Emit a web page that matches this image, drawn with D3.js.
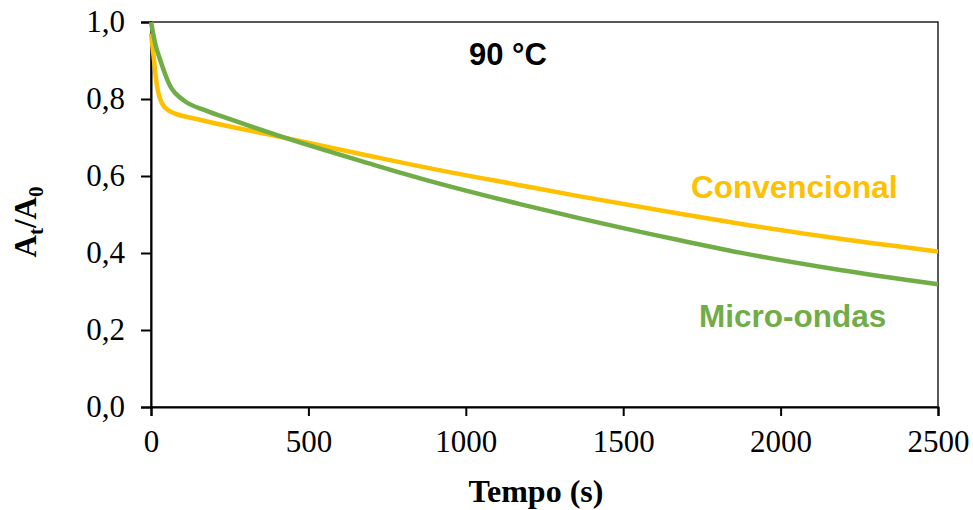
<!DOCTYPE html>
<html>
<head>
<meta charset="utf-8">
<script src="https://cdn.jsdelivr.net/npm/d3@7"></script>
<style>
  body { margin: 0; background: #fff; }
  svg { display: block; }
</style>
</head>
<body>
<div id="container"></div>
<script>
// time points (s) and A_t/A_0
const tempoConv = [0, 7, 18, 34, 60, 145, 314, 420, 696, 855, 1172, 1363, 1680, 1871, 2189, 2500];
const convencional = [0.97, 0.92, 0.84, 0.79, 0.768, 0.748, 0.718, 0.700, 0.652, 0.625, 0.576, 0.547, 0.502, 0.476, 0.437, 0.404];

const tempoMicro = [0, 13, 29, 60, 103, 175, 251, 420, 696, 855, 1172, 1363, 1680, 1871, 2189, 2500];
const microOndas = [1.0, 0.945, 0.902, 0.835, 0.797, 0.770, 0.748, 0.701, 0.632, 0.594, 0.527, 0.490, 0.433, 0.401, 0.356, 0.319];

const xTicks = [0, 500, 1000, 1500, 2000, 2500];
const yTicks = [0, 0.2, 0.4, 0.6, 0.8, 1.0];

const width = 973;
const height = 510;
const margin = { top: 22, right: 35, bottom: 103, left: 151 };

const ptLocale = d3.formatLocale({ decimal: ",", thousands: ".", grouping: [3], currency: ["", ""] });
const fmtY = ptLocale.format(".1f");

const svg = d3.select("#container").append("svg")
    .attr("width", width)
    .attr("height", height);

const x = d3.scaleLinear().domain([0, 2500]).range([margin.left, width - margin.right]);
const y = d3.scaleLinear().domain([0, 1]).range([height - margin.bottom, margin.top]);

// frame
svg.append("rect")
    .attr("x", x(0))
    .attr("y", y(1))
    .attr("width", x(2500) - x(0))
    .attr("height", y(0) - y(1))
    .attr("fill", "none")
    .attr("stroke", "#222")
    .attr("stroke-width", 1.5);

// x axis
const xAxis = svg.append("g")
    .attr("transform", `translate(0,${y(0)})`)
    .call(d3.axisBottom(x).tickValues(xTicks).tickSize(9).tickPadding(14).tickFormat(d3.format("d")));
xAxis.select(".domain").attr("stroke", "#000").attr("stroke-width", 2);
xAxis.selectAll(".tick line").attr("stroke", "#000").attr("stroke-width", 2);
xAxis.selectAll("text")
    .attr("font-family", "'Liberation Serif', 'Times New Roman', serif")
    .attr("font-size", 31)
    .attr("fill", "#000");

// y axis
const yAxis = svg.append("g")
    .attr("transform", `translate(${x(0)},0)`)
    .call(d3.axisLeft(y).tickValues(yTicks).tickSize(10).tickPadding(16).tickFormat(fmtY));
yAxis.select(".domain").attr("stroke", "#000").attr("stroke-width", 2);
yAxis.selectAll(".tick line").attr("stroke", "#000").attr("stroke-width", 2);
yAxis.selectAll("text")
    .attr("font-family", "'Liberation Serif', 'Times New Roman', serif")
    .attr("font-size", 31)
    .attr("fill", "#000");

// lines
const line = d3.line()
    .x(d => x(d[0]))
    .y(d => y(d[1]))
    .curve(d3.curveMonotoneX);

svg.append("path")
    .datum(d3.zip(tempoConv, convencional))
    .attr("fill", "none")
    .attr("stroke", "#FFC000")
    .attr("stroke-width", 4.5)
    .attr("d", line);

svg.append("path")
    .datum(d3.zip(tempoMicro, microOndas))
    .attr("fill", "none")
    .attr("stroke", "#70AD47")
    .attr("stroke-width", 4.5)
    .attr("d", line);

// labels inside plot
svg.append("text")
    .attr("x", 691)
    .attr("y", 198)
    .attr("font-family", "'Liberation Sans', Arial, sans-serif")
    .attr("font-weight", "bold")
    .attr("font-size", 31.5)
    .attr("fill", "#FFC000")
    .text("Convencional");

svg.append("text")
    .attr("x", 699)
    .attr("y", 327)
    .attr("font-family", "'Liberation Sans', Arial, sans-serif")
    .attr("font-weight", "bold")
    .attr("font-size", 31.5)
    .attr("fill", "#70AD47")
    .text("Micro-ondas");

svg.append("text")
    .attr("x", 469)
    .attr("y", 65)
    .attr("font-family", "'Liberation Sans', Arial, sans-serif")
    .attr("font-weight", "bold")
    .attr("font-size", 31)
    .attr("fill", "#000")
    .text("90 °C");

// axis titles
svg.append("text")
    .attr("x", 536)
    .attr("y", 502)
    .attr("text-anchor", "middle")
    .attr("font-family", "'Liberation Serif', 'Times New Roman', serif")
    .attr("font-weight", "bold")
    .attr("font-size", 32)
    .attr("fill", "#000")
    .text("Tempo (s)");

const yTitle = svg.append("text")
    .attr("transform", `translate(36,222) rotate(-90)`)
    .attr("text-anchor", "middle")
    .attr("font-family", "'Liberation Serif', 'Times New Roman', serif")
    .attr("font-weight", "bold")
    .attr("font-size", 31)
    .attr("fill", "#000");
yTitle.append("tspan").text("A");
yTitle.append("tspan").attr("dy", 7).attr("font-size", 21).text("t");
yTitle.append("tspan").attr("dy", -7).text("/A");
yTitle.append("tspan").attr("dy", 7).attr("font-size", 21).text("0");
</script>
</body>
</html>
